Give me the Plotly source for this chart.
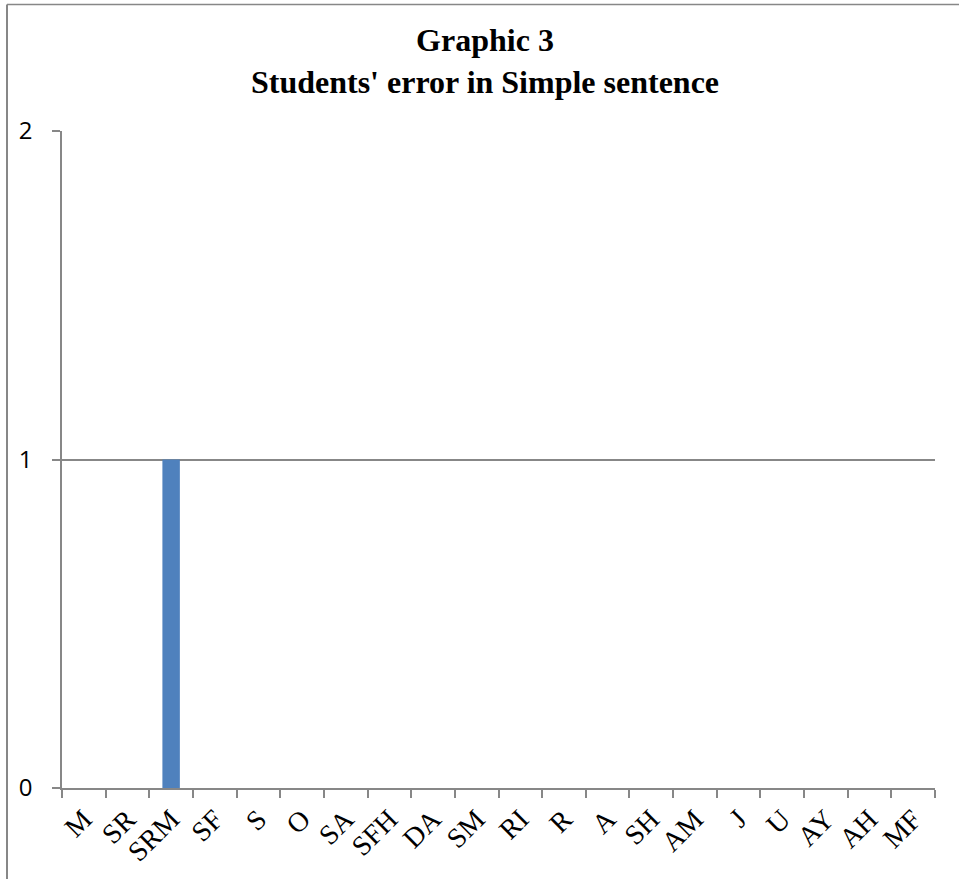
import plotly.graph_objects as go

# Students and number of errors found in simple sentences
students = ["M", "SR", "SRM", "SF", "S", "O", "SA", "SFH", "DA", "SM",
            "RI", "R", "A", "SH", "AM", "J", "U", "AY", "AH", "MF"]
errors = [0, 0, 1, 0, 0, 0, 0, 0, 0, 0,
          0, 0, 0, 0, 0, 0, 0, 0, 0, 0]
y_ticks = [0, 1, 2]

GREY = "#878787"
W, H = 959, 879
L, R, T, B = 62, 24, 131, 91

fig = go.Figure(go.Bar(x=students, y=errors, marker_color="#4F81BD",
                       marker_line_width=0))

# chart frame (top and left edges), expressed in paper coordinates
pw, ph = W - L - R, H - T - B
def px_x(v):
    return (v - L) / pw
def px_y(v):
    return (H - B - v) / ph

fig.add_shape(type="line", xref="paper", yref="paper",
              x0=px_x(7), x1=px_x(W + 5), y0=px_y(4.5), y1=px_y(4.5),
              line=dict(color=GREY, width=1.5))
fig.add_shape(type="line", xref="paper", yref="paper",
              x0=px_x(7), x1=px_x(7), y0=px_y(4.5), y1=px_y(H + 5),
              line=dict(color=GREY, width=2))

fig.update_layout(
    width=W, height=H,
    margin=dict(l=L, r=R, t=T, b=B, pad=0),
    paper_bgcolor="white", plot_bgcolor="white",
    showlegend=False,
    bargap=0.6,
    title=dict(
        text="Graphic 3<br>Students' error in Simple sentence",
        x=485 / W, xref="container", xanchor="center",
        y=1 - 51 / H, yanchor="top",
        font=dict(family="Liberation Serif", size=32, color="black",
                  weight="bold"),
    ),
    xaxis=dict(
        type="category",
        tickson="boundaries",
        ticks="outside", ticklen=8, tickwidth=1.5, tickcolor=GREY,
        showline=True, linecolor=GREY, linewidth=1.5,
        showgrid=False,
        tickangle=-45,
        ticklabelstandoff=2,
        tickfont=dict(family="Liberation Serif", size=28, color="black"),
    ),
    yaxis=dict(
        range=[0, 2], tickvals=y_ticks,
        ticks="outside", ticklen=8, tickwidth=1.5, tickcolor=GREY,
        showline=True, linecolor=GREY, linewidth=1.5,
        showgrid=True, gridcolor=GREY, gridwidth=1.5,
        zeroline=False,
        ticklabelstandoff=15,
        tickfont=dict(family="Open Sans", size=24, color="black"),
    ),
)

fig.write_html("out.html")
